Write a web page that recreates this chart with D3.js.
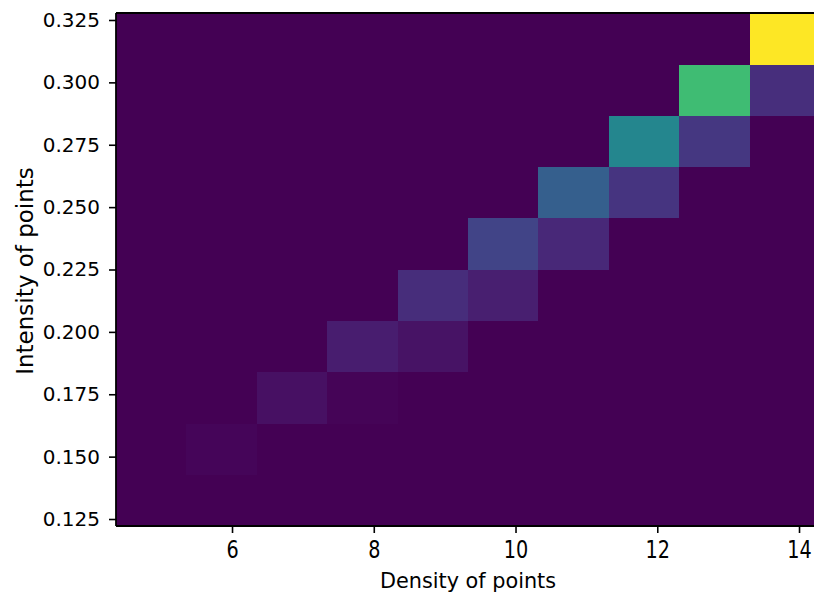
<!DOCTYPE html>
<html>
<head>
<meta charset="utf-8">
<script src="https://cdn.jsdelivr.net/npm/d3@7"></script>
<style>
  html, body { margin: 0; padding: 0; background: #fff; }
  svg { display: block; font-family: "DejaVu Sans", sans-serif; }
</style>
</head>
<body>
<svg id="chart" width="814" height="603"></svg>
<script>
// Bin edges of the 2-D histogram
const xEdges = [4.363, 5.356, 6.350, 7.343, 8.336, 9.330, 10.323, 11.316, 12.310, 13.303, 14.296];
const yEdges = [0.1222, 0.1428, 0.1633, 0.1839, 0.2044, 0.2250, 0.2456, 0.2661, 0.2867, 0.3072, 0.3278];

// Counts per bin, one row per intensity bin (bottom to top), one column per density bin
const counts = [
  [0, 0, 0, 0, 0, 0, 0, 0, 0, 0],
  [0, 3, 0, 0, 0, 0, 0, 0, 0, 0],
  [0, 0, 8, 2, 0, 0, 0, 0, 0, 0],
  [0, 0, 0, 16, 10, 0, 0, 0, 0, 0],
  [0, 0, 0, 0, 25, 17, 0, 0, 0, 0],
  [0, 0, 0, 0, 0, 40, 22, 0, 0, 0],
  [0, 0, 0, 0, 0, 0, 60, 30, 0, 0],
  [0, 0, 0, 0, 0, 0, 0, 92, 32, 0],
  [0, 0, 0, 0, 0, 0, 0, 0, 138, 26],
  [0, 0, 0, 0, 0, 0, 0, 0, 0, 200]
];

// Tick labels
const xTicks = [6, 8, 10, 12, 14];
const yTicks = [0.125, 0.150, 0.175, 0.200, 0.225, 0.250, 0.275, 0.300, 0.325];

const xLabel = "Density of points";
const yLabel = "Intensity of points";

const margin = { left: 116, top: 13, right: 820, bottom: 526 };
const svg = d3.select("#chart");

const x = d3.scaleLinear()
  .domain([xEdges[0], xEdges[xEdges.length - 1]])
  .range([margin.left, margin.right]);
const y = d3.scaleLinear()
  .domain([yEdges[0], yEdges[yEdges.length - 1]])
  .range([margin.bottom, margin.top]);

const maxCount = d3.max(counts.flat());
const color = d3.scaleSequential(d3.interpolateViridis).domain([0, maxCount]);

// Flatten the matrix into cells
const cells = [];
counts.forEach((row, j) => {
  row.forEach((v, i) => {
    cells.push({ x0: xEdges[i], x1: xEdges[i + 1], y0: yEdges[j], y1: yEdges[j + 1], v });
  });
});

svg.append("g")
  .selectAll("rect")
  .data(cells)
  .join("rect")
  .attr("x", d => x(d.x0))
  .attr("y", d => y(d.y1))
  .attr("width", d => x(d.x1) - x(d.x0) + 0.3)
  .attr("height", d => y(d.y0) - y(d.y1) + 0.3)
  .attr("fill", d => color(d.v))
  .attr("shape-rendering", "crispEdges");

// Axes
const tickFont = 20;

const xAxis = svg.append("g")
  .attr("transform", `translate(0,${margin.bottom})`)
  .call(d3.axisBottom(x).tickValues(xTicks).tickFormat(d3.format("d"))
    .tickSize(7).tickPadding(9).tickSizeOuter(0));

const yAxis = svg.append("g")
  .attr("transform", `translate(${margin.left},0)`)
  .call(d3.axisLeft(y).tickValues(yTicks).tickFormat(d3.format(".3f"))
    .tickSize(7).tickPadding(9).tickSizeOuter(0));

[xAxis, yAxis].forEach(g => {
  g.select(".domain").remove();
  g.selectAll(".tick line").attr("stroke", "#000").attr("stroke-width", 1.6);
  g.selectAll(".tick text")
    .attr("fill", "#000")
    .style("font-family", "'DejaVu Sans', sans-serif")
    .style("font-size", tickFont + "px");
});

// x tick labels are a little taller than wide: stretch them from their top edge
xAxis.selectAll(".tick text")
  .attr("y", 0)
  .attr("dy", "0.71em")
  .attr("transform", "translate(0,15) scale(0.96,1.2)");

// Spines
const spine = svg.append("g").attr("stroke", "#000").attr("stroke-width", 1.8).attr("fill", "none");
spine.append("line").attr("x1", margin.left).attr("x2", margin.right)
  .attr("y1", margin.top).attr("y2", margin.top);
spine.append("line").attr("x1", margin.left).attr("x2", margin.right)
  .attr("y1", margin.bottom).attr("y2", margin.bottom);
spine.append("line").attr("x1", margin.left).attr("x2", margin.left)
  .attr("y1", margin.top).attr("y2", margin.bottom);
spine.append("line").attr("x1", margin.right).attr("x2", margin.right)
  .attr("y1", margin.top).attr("y2", margin.bottom);

// Axis titles
svg.append("text")
  .attr("x", (margin.left + margin.right) / 2)
  .attr("y", 588)
  .attr("text-anchor", "middle")
  .style("font-size", "20.8px")
  .attr("fill", "#000")
  .text(xLabel);

svg.append("text")
  .attr("transform", `translate(33,271) rotate(-90)`)
  .attr("text-anchor", "middle")
  .style("font-size", "23px")
  .attr("fill", "#000")
  .text(yLabel);
</script>
</body>
</html>
